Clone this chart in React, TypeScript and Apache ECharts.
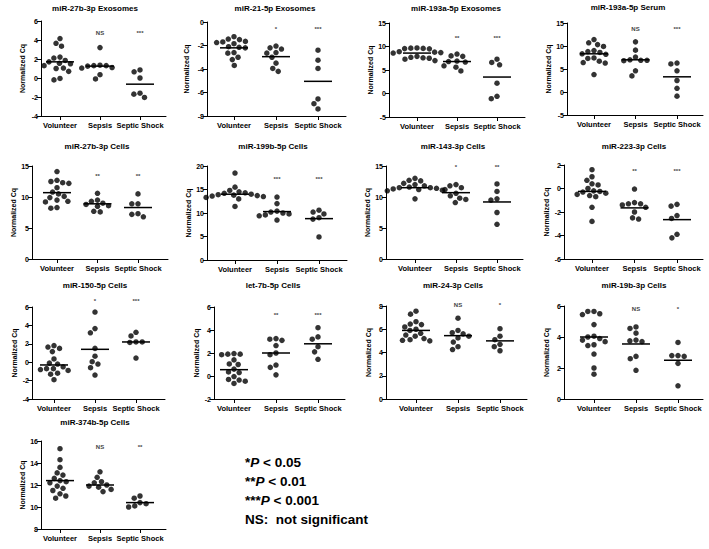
import React, { useEffect, useRef } from "react";
import * as echarts from "echarts";

const GROUPS = ["Volunteer", "Sepsis", "Septic Shock"];
const TITLES = [
  "miR-27b-3p Exosomes", "miR-21-5p Exosomes", "miR-193a-5p Exosomes", "miR-193a-5p Serum",
  "miR-27b-3p Cells", "miR-199b-5p Cells", "miR-143-3p Cells", "miR-223-3p Cells",
  "miR-150-5p Cells", "let-7b-5p Cells", "miR-24-3p Cells", "miR-19b-3p Cells",
  "miR-374b-5p Cells",
];
const Y_MIN = [-4, -8, -5, -5, 0, 0, 0, -6, -4, -2, 0, 0, 8];
const Y_MAX = [6, 0, 15, 15, 15, 20, 15, 2, 6, 6, 8, 6, 16];
const Y_STEP = [2, 2, 5, 5, 5, 5, 5, 2, 2, 2, 2, 2, 2];

const VOLUNTEER = [
  [4.15, 3.65, 3.35, 2.2, 2.1, 1.85, 1.7, 1.55, 1.5, 1.3, 1.05, 1.0, 0.7, -0.05, -0.2],
  [-1.25, -1.45, -1.5, -1.65, -1.7, -1.75, -1.85, -2.1, -2.15, -2.2, -2.6, -2.65, -3.0, -3.2, -3.7],
  [9.7, 9.65, 9.6, 9.55, 9.5, 8.9, 8.8, 8.7, 8.6, 7.9, 7.7, 7.6, 7.5, 7.3, 7.0],
  [11.4, 10.7, 10.3, 9.9, 9.0, 8.8, 8.6, 8.3, 8.2, 7.4, 7.3, 6.7, 6.4, 6.3, 3.8],
  [14.1, 12.7, 12.5, 12.3, 12.2, 11.5, 10.8, 10.5, 10.1, 9.9, 9.5, 9.3, 9.2, 8.3, 8.2],
  [18.5, 15.5, 14.8, 14.5, 14.3, 14.2, 14.0, 13.9, 13.8, 13.7, 13.6, 13.5, 13.3, 13.0, 11.4],
  [13.0, 12.7, 12.6, 12.2, 12.0, 11.8, 11.6, 11.5, 11.5, 11.4, 11.3, 11.2, 11.1, 11.0, 9.7],
  [1.6, 1.0, 0.7, 0.4, 0.3, 0.0, -0.2, -0.25, -0.3, -0.4, -0.5, -0.6, -0.7, -1.6, -2.8],
  [1.8, 1.65, 1.5, 1.15, 0.35, -0.1, -0.2, -0.5, -0.7, -0.7, -0.8, -0.9, -1.2, -1.3, -1.9],
  [1.95, 1.9, 1.9, 1.85, 1.4, 1.05, 1.0, 0.6, 0.35, 0.3, -0.05, -0.3, -0.35, -0.45, -0.65],
  [7.55, 7.3, 6.65, 6.45, 6.4, 6.2, 6.0, 5.9, 5.65, 5.5, 5.4, 5.2, 5.1, 5.05, 5.0],
  [5.65, 5.65, 5.5, 5.45, 4.8, 4.05, 4.0, 3.9, 3.8, 3.7, 3.5, 3.45, 2.9, 2.0, 1.6],
  [15.3, 14.3, 13.6, 13.1, 12.9, 12.6, 12.4, 12.3, 12.2, 11.9, 11.7, 11.5, 11.2, 11.0, 10.8],
];
const SEPSIS = [
  [3.2, 1.35, 1.3, 1.3, 1.25, 1.1, 1.05, 0.35, -0.1],
  [-2.05, -2.2, -2.3, -2.6, -2.65, -3.0, -3.5, -3.95, -4.2],
  [8.4, 8.0, 7.9, 6.9, 6.8, 6.7, 5.9, 5.6, 4.8],
  [10.9, 9.1, 7.6, 7.0, 6.9, 6.9, 6.8, 4.6, 3.5],
  [10.6, 9.5, 9.3, 9.0, 8.8, 8.6, 8.5, 7.7, 7.6],
  [13.4, 12.0, 10.4, 10.2, 10.0, 9.8, 9.6, 9.4, 8.5],
  [12.0, 11.8, 11.5, 11.2, 10.6, 10.2, 9.8, 9.6, 9.1],
  [-0.05, -1.2, -1.3, -1.3, -1.4, -1.6, -2.0, -2.5, -2.6],
  [5.45, 3.65, 3.2, 1.5, 0.65, 0.05, -0.2, -0.6, -1.4],
  [3.25, 3.2, 3.1, 2.65, 2.0, 1.85, 0.95, 0.75, 0.1],
  [6.95, 5.9, 5.7, 5.6, 5.4, 5.25, 4.9, 4.5, 4.25],
  [4.65, 4.55, 4.25, 3.8, 3.75, 3.7, 2.75, 2.6, 1.85],
  [13.2, 12.7, 12.3, 12.2, 12.0, 11.9, 11.8, 11.6, 11.4],
];
const SEPTIC_SHOCK = [
  [0.85, 0.65, 0.0, -1.6, -1.7, -2.05],
  [-2.4, -3.25, -3.95, -6.55, -6.95, -7.4],
  [7.3, 6.6, 6.1, 2.2, -0.6, -1.1],
  [6.3, 6.1, 4.6, 2.5, 0.8, -0.9],
  [10.5, 8.9, 8.9, 7.3, 7.2, 6.8],
  [10.6, 10.2, 9.8, 9.0, 8.7, 4.9],
  [12.1, 10.9, 9.7, 9.5, 7.5, 5.6],
  [-1.35, -1.5, -2.3, -2.55, -3.9, -4.2],
  [3.25, 2.85, 2.2, 2.2, 2.15, 0.45],
  [4.2, 3.4, 3.2, 2.55, 2.1, 1.45],
  [6.05, 5.4, 5.1, 4.7, 4.5, 4.15],
  [3.65, 2.8, 2.8, 2.75, 2.3, 0.85],
  [11.0, 10.8, 10.4, 10.3, 10.1, 10.0],
];
const CENTER_LINES = [
  [1.7, 1.25, -0.65], [-2.2, -2.95, -5.05], [8.6, 6.8, 3.5], [8.3, 7.0, 3.3],
  [10.7, 8.9, 8.3], [14.0, 10.3, 8.8], [11.5, 10.7, 9.2], [-0.25, -1.65, -2.65],
  [-0.3, 1.4, 2.2], [0.55, 2.0, 2.8], [5.9, 5.45, 5.0], [4.0, 3.55, 2.5],
  [12.4, 12.0, 10.4],
];
const SIGNIFICANCE = [
  ["", "NS", "***"], ["", "*", "***"], ["", "**", "***"], ["", "NS", "***"],
  ["", "**", "**"], ["", "***", "***"], ["", "*", "**"], ["", "**", "***"],
  ["", "*", "***"], ["", "**", "***"], ["", "NS", "*"], ["", "NS", "*"],
  ["", "NS", "**"],
];
const SIG_LEVEL = [4.7, -0.6, 11.9, 13.8, 13.4, 17.2, 14.9, 1.45, 6.7, 5.3, 8.1, 5.8, 15.5];
const LEGEND_STARS = ["*", "**", "***"];
const LEGEND_P = [" < 0.05", " < 0.01", " < 0.001"];
const LEGEND_NS = "NS:  not significant";

// layout: [axisX, firstCat, lastCat, right, top, bottom, nameGap, titleX, titleY]
const LAYOUT = [
  [41, 60, 140, 166, 21, 116, 15, 95, 8],
  [207, 234, 318, 346, 22, 116, 17, 275, 8],
  [389, 417, 497, 525, 23, 117, 15, 456, 8],
  [567, 594, 677, 703, 23, 115, 15, 628, 7],
  [32, 57, 138, 168, 166, 259, 14, 97, 146],
  [207, 235, 319, 347, 166, 260, 14, 273, 146],
  [386, 415, 497, 523, 166, 259, 14, 453, 146],
  [564, 592, 677, 703, 165, 259, 14, 634, 146],
  [32, 54, 136, 165, 307, 399, 14, 95, 285],
  [214, 234, 318, 345, 307, 399, 14, 273, 285],
  [386, 416, 500, 527, 306, 399, 14, 453, 285],
  [564, 594, 678, 703, 306, 399, 14, 634, 285],
  [41, 60, 140, 166, 441, 529, 15, 95, 422],
];

const FONT = "Arial, 'Liberation Sans', Helvetica, sans-serif";
const DOT = 5.5;
const GAP = 6.2;
const HALF_LINE = 14;

function swarm(vals: number[], pxPerUnit: number): number[] {
  const order = vals.map((_, i) => i).sort((a, b) => vals[b] - vals[a]);
  const placed: { x: number; y: number }[] = [];
  const res = new Array(vals.length).fill(0);
  for (const i of order) {
    const y = vals[i] * pxPerUnit;
    const ints: [number, number][] = [];
    for (const p of placed) {
      const dy = Math.abs(p.y - y);
      if (dy < GAP) {
        const dx = Math.sqrt(GAP * GAP - dy * dy);
        ints.push([p.x - dx, p.x + dx]);
      }
    }
    const cands = [0];
    ints.forEach(([a, b]) => cands.push(a, b));
    cands.sort((a, b) => Math.abs(a) - Math.abs(b) || a - b);
    let chosen = 0;
    for (const c of cands) {
      if (ints.every(([a, b]) => c <= a + 1e-6 || c >= b - 1e-6)) {
        chosen = c;
        break;
      }
    }
    placed.push({ x: chosen, y });
    res[i] = chosen;
  }
  return res;
}

function buildOption() {
  const grid: any[] = [];
  const xAxis: any[] = [];
  const yAxis: any[] = [];
  const series: any[] = [];
  const graphic: any[] = [];

  TITLES.forEach((title, i) => {
    const [ax, c1, c3, right, top, bottom, nameGap, tx, ty] = LAYOUT[i];
    const spacing = (c3 - c1) / 2;
    const xmin = 1 - (c1 - ax) / spacing;
    const xmax = 3 + (right - c3) / spacing;
    const pxPerUnit = (bottom - top) / (Y_MAX[i] - Y_MIN[i]);
    grid.push({ left: ax, top, width: right - ax, height: bottom - top });
    xAxis.push({
      gridIndex: i,
      type: "value",
      min: xmin,
      max: xmax,
      axisLine: { show: true, onZero: false, lineStyle: { color: "#000", width: 1 } },
      axisTick: { show: true, customValues: [1, 2, 3], length: 4, lineStyle: { color: "#000" } },
      axisLabel: {
        customValues: [1, 2, 3],
        formatter: (v: number) => GROUPS[Math.round(v) - 1] ?? "",
        fontSize: 7.5,
        fontWeight: "bold",
        fontFamily: FONT,
        color: "#000",
        margin: 5,
      },
      splitLine: { show: false },
    });
    yAxis.push({
      gridIndex: i,
      type: "value",
      min: Y_MIN[i],
      max: Y_MAX[i],
      interval: Y_STEP[i],
      axisLine: { show: true, onZero: false, lineStyle: { color: "#000", width: 1 } },
      axisTick: { show: true, length: 4, lineStyle: { color: "#000" } },
      axisLabel: { fontSize: 7, fontWeight: "bold", fontFamily: FONT, color: "#000", margin: 3 },
      splitLine: { show: false },
      name: "Normalized Cq",
      nameLocation: "middle",
      nameGap,
      nameTextStyle: { fontSize: 7, fontWeight: "bold", fontFamily: FONT, color: "#000" },
    });

    const groups = [VOLUNTEER[i], SEPSIS[i], SEPTIC_SHOCK[i]];
    const pts: number[][] = [];
    groups.forEach((vals, g) => {
      const offs = swarm(vals, pxPerUnit);
      vals.forEach((v, k) => pts.push([g + 1 + offs[k] / spacing, v]));
    });
    series.push({
      type: "scatter",
      xAxisIndex: i,
      yAxisIndex: i,
      data: pts,
      symbol: "circle",
      symbolSize: DOT,
      itemStyle: { color: "#000" },
      silent: true,
      clip: false,
    });
    series.push({
      type: "custom",
      xAxisIndex: i,
      yAxisIndex: i,
      data: CENTER_LINES[i].map((m, g) => [g + 1, m]),
      silent: true,
      z: 3,
      renderItem: (_p: any, api: any) => {
        const c = api.coord([api.value(0), api.value(1)]);
        return {
          type: "line",
          shape: { x1: c[0] - HALF_LINE, y1: c[1], x2: c[0] + HALF_LINE, y2: c[1] },
          style: { stroke: "#000", lineWidth: 1.5 },
        };
      },
    });
    series.push({
      type: "custom",
      xAxisIndex: i,
      yAxisIndex: i,
      data: SIGNIFICANCE[i].map((_, g) => [g + 1, SIG_LEVEL[i]]),
      silent: true,
      clip: false,
      renderItem: (params: any, api: any) => {
        const c = api.coord([api.value(0), api.value(1)]);
        return {
          type: "text",
          x: c[0],
          y: c[1],
          style: {
            text: SIGNIFICANCE[i][params.dataIndex],
            align: "center",
            verticalAlign: "middle",
            textAlign: "center",
            textVerticalAlign: "middle",
            fontSize: 6,
            fontWeight: "bold",
            fontFamily: FONT,
            fill: "#444",
          },
        };
      },
    });
    graphic.push({
      type: "text",
      x: tx,
      y: ty,
      style: {
        text: title,
        align: "center",
        verticalAlign: "middle",
        textAlign: "center",
        textVerticalAlign: "middle",
        fontSize: 8,
        fontWeight: "bold",
        fontFamily: FONT,
        fill: "#000",
      },
    });
  });

  const legendY = [462, 481, 500];
  LEGEND_STARS.forEach((s, k) => {
    graphic.push({
      type: "text",
      x: 245,
      y: legendY[k],
      style: {
        text: `{b|${s}}{i|P}{b|${LEGEND_P[k]}}`,
        verticalAlign: "middle",
        textVerticalAlign: "middle",
        rich: {
          b: { fontSize: 13.5, fontWeight: "bold", fontFamily: FONT, fill: "#000", color: "#000" },
          i: { fontSize: 13.5, fontWeight: "bold", fontStyle: "italic", fontFamily: FONT, fill: "#000", color: "#000" },
        },
      },
    });
  });
  graphic.push({
    type: "text",
    x: 245,
    y: 519,
    style: {
      text: LEGEND_NS,
      verticalAlign: "middle",
      textVerticalAlign: "middle",
      fontSize: 13.5,
      fontWeight: "bold",
      fontFamily: FONT,
      fill: "#000",
    },
  });

  return {
    animation: false,
    backgroundColor: "#fff",
    grid,
    xAxis,
    yAxis,
    series,
    graphic,
  };
}

export default function App() {
  const ref = useRef<HTMLDivElement>(null);
  useEffect(() => {
    if (!ref.current) return;
    const chart = echarts.init(ref.current, undefined, { renderer: "svg" });
    chart.setOption(buildOption() as any);
    return () => chart.dispose();
  }, []);
  return (
    <div
      ref={ref}
      style={{ position: "absolute", left: 0, top: 0, width: 709, height: 549, background: "#fff" }}
    />
  );
}
